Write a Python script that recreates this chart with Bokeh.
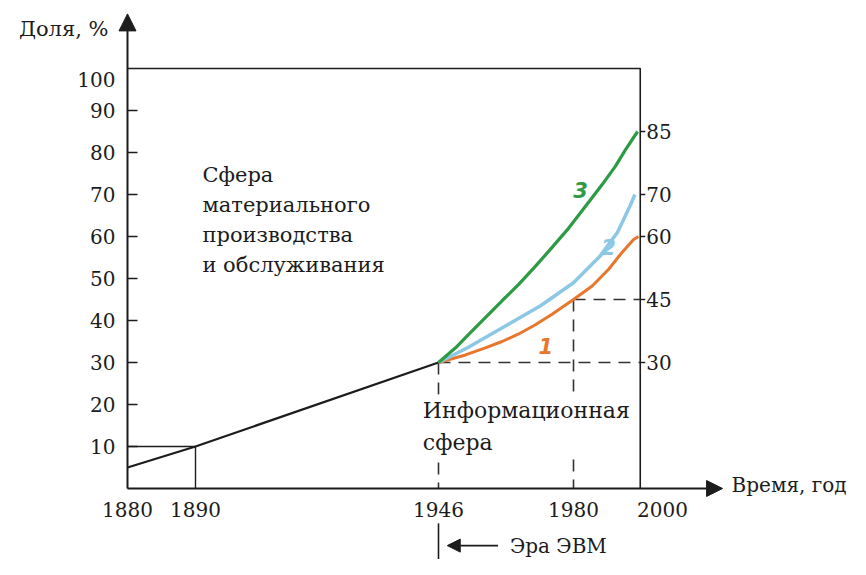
import numpy as np
from bokeh.plotting import figure
from bokeh.models import Range1d, FixedTicker, Arrow, NormalHead
from bokeh.embed import file_html
from bokeh.resources import INLINE
from bokeh.core.properties import value

# ---------------- data ----------------
# time axis of the original is schematic (non-uniform): tick years and where they sit on the axis
tick_years = [1880, 1890, 1946, 1980, 2000]
tick_labels = ["1880", "1890", "1946", "1980", "2000"]
tick_pos = [127, 195, 438, 573, 662]

y_ticks = [10, 20, 30, 40, 50, 60, 70, 80, 90, 100]

# share of the information sphere before the computer era
base_years = [1880, 1890, 1946]
base_share = [5, 10, 30]

# forecast curves after 1946
c1_years = [1946, 1952.8, 1957.8, 1962, 1966.2, 1970.4, 1974.6, 1980, 1984.2, 1987.9, 1990.9, 1993.5, 1994.6]
c1_share = [30, 31.8, 33.5, 35, 36.8, 39, 41.5, 45, 48.2, 52.2, 56.2, 59.3, 60]

c2_years = [1946, 1953.3, 1963.4, 1971.7, 1980, 1986.1, 1989.9, 1992.8, 1993.8]
c2_share = [30, 33.5, 39, 43.5, 49, 55.5, 61, 67.5, 70]

c3_years = [1946, 1950.3, 1953.6, 1957.8, 1962, 1966.2, 1970.5, 1974.6, 1978.8, 1982.7,
            1986.4, 1989.4, 1991.7, 1994.4]
c3_share = [30, 33.5, 36.7, 40.7, 44.7, 48.6, 53, 57.4, 62, 67.2, 72.3, 76.7, 80.7, 85]

end_year = 1995
right_values = [85, 70, 60, 45, 30]
right_labels = ["85", "70", "60", "45", "30"]

curve_names = ["1", "2", "3"]
curve_name_years = [1973, 1987.9, 1981.6]
curve_name_share = [34, 57.4, 71]
curve_colors = ["#e8772e", "#8cc8e6", "#2e9a44"]

FONT = "DejaVu Serif"
INK = "#1c1c1c"


def X(years):
    y = np.asarray(years, dtype=float)
    r = np.interp(y, tick_years, tick_pos)
    sr = (tick_pos[-1] - tick_pos[-2]) / (tick_years[-1] - tick_years[-2])
    r = np.where(y > tick_years[-1], tick_pos[-1] + (y - tick_years[-1]) * sr, r)
    return r


def XS(year):
    return float(X([year])[0])


# ---------------- figure ----------------
p = figure(width=850, height=559, x_range=Range1d(0, 850), y_range=Range1d(-16.905, 116.19),
           output_backend="svg", toolbar_location=None, min_border=0)
p.grid.visible = False
p.outline_line_color = None
p.background_fill_color = "white"
p.border_fill_color = "white"

xa = p.xaxis[0]
xa.fixed_location = 0
xt = [int(round(v)) for v in X(tick_years)]
xa.ticker = FixedTicker(ticks=xt)
xa.major_label_overrides = {k: l for k, l in zip(xt, tick_labels)}
xa.axis_line_color = None
xa.major_tick_in = 0
xa.major_tick_out = 0
xa.minor_tick_line_color = None
xa.major_label_text_font = FONT
xa.major_label_text_font_size = "20px"
xa.major_label_text_color = INK
xa.major_label_standoff = 14

ya = p.yaxis[0]
ya.fixed_location = XS(1880)
ya.ticker = FixedTicker(ticks=y_ticks[:-1])
ya.axis_line_color = None
ya.major_tick_in = 10
ya.major_tick_out = 0
ya.major_tick_line_width = 1.5
ya.major_tick_line_color = INK
ya.minor_tick_line_color = None
ya.major_label_text_font = FONT
ya.major_label_text_font_size = "20px"
ya.major_label_text_color = INK
ya.major_label_standoff = 12

# the "100" label sits just under the top line in the original
p.text(x=[XS(1880)], y=[y_ticks[-1]], text=[str(y_ticks[-1])], x_offset=-12, y_offset=11,
       text_font=value(FONT), text_font_size="20px", text_color=INK,
       text_align="right", text_baseline="middle")

# frame of the 100 % area
p.line([XS(1880), XS(end_year), XS(end_year)], [100, 100, 0], line_color=INK, line_width=1.6)
# guides at 1890
p.line([XS(1880), XS(1890), XS(1890)], [10, 10, 0], line_color=INK, line_width=1.4)
# dashed guides
p.multi_line(xs=[[XS(1946), XS(end_year)], [XS(1980), XS(end_year)],
                 [XS(1946), XS(1946)], [XS(1980), XS(1980)]],
             ys=[[30, 30], [45, 45], [30, 0], [45, 0]],
             line_color="#333333", line_width=1.6, line_dash="12 8")
# small ticks on the right edge
p.segment(x0=[XS(end_year)] * len(right_values), y0=right_values,
          x1=[XS(end_year) + 5] * len(right_values), y1=right_values,
          line_color=INK, line_width=1.4)

# main line
p.line(X(base_years), base_share, line_color=INK, line_width=2.2)

# curves
p.line(X(c1_years), c1_share, line_color=curve_colors[0], line_width=3)
p.line(X(c2_years), c2_share, line_color=curve_colors[1], line_width=3.5)
p.line(X(c3_years), c3_share, line_color=curve_colors[2], line_width=3.2)

p.text(x=X(curve_name_years), y=curve_name_share, text=curve_names, text_color=curve_colors,
       text_font=value("DejaVu Sans"), text_font_style="bold italic", text_font_size="21px",
       text_align="center", text_baseline="middle")

# right side value labels
p.text(x=[XS(end_year)] * len(right_values), y=right_values, text=right_labels, x_offset=6,
       text_font=value(FONT), text_font_size="20px", text_color=INK,
       text_align="left", text_baseline="middle")

# axes with arrows
p.add_layout(Arrow(end=NormalHead(size=17, fill_color=INK, line_color=INK, line_width=1),
                   x_start=XS(1880), y_start=0, x_end=XS(1880), y_end=113,
                   line_color=INK, line_width=2))
p.add_layout(Arrow(end=NormalHead(size=16, fill_color=INK, line_color=INK, line_width=1),
                   x_start=XS(1880), y_start=0, x_end=XS(2013.5), y_end=0,
                   line_color=INK, line_width=2))

p.text(x=[XS(1880)], y=[109.5], text=["Доля, %"], x_offset=-19,
       text_font=value(FONT), text_font_size="21px", text_color=INK,
       text_align="right", text_baseline="middle")
p.text(x=[XS(2013.5)], y=[0.8], text=["Время, год"], x_offset=9,
       text_font=value(FONT), text_font_size="20px", text_color=INK,
       text_align="left", text_baseline="middle")

# region captions
p.text(x=[XS(1891.6)], y=[77.6], text=["Сфера\nматериального\nпроизводства\nи обслуживания"],
       text_font=value(FONT), text_font_size="21px", text_color=INK, text_line_height=1.25,
       text_align="left", text_baseline="top")
p.text(x=[XS(1941.7)], y=[22.3], text=["Информационная\nсфера"],
       text_font=value(FONT), text_font_size="22px", text_color=INK, text_line_height=1.3,
       text_align="left", text_baseline="top",
       background_fill_color="white", padding=3)

# computer era marker
p.line([XS(1946), XS(1946)], [-8.3, -16.9], line_color=INK, line_width=1.6)
p.add_layout(Arrow(end=NormalHead(size=13, fill_color=INK, line_color=INK, line_width=1),
                   x_start=XS(1961), y_start=-13.6, x_end=XS(1948.2), y_end=-13.6,
                   line_color=INK, line_width=1.8))
p.text(x=[XS(1964)], y=[-13.6], text=["Эра ЭВМ"],
       text_font=value(FONT), text_font_size="20px", text_color=INK,
       text_align="left", text_baseline="middle")

open("out.html", "w").write(file_html(p, INLINE))
